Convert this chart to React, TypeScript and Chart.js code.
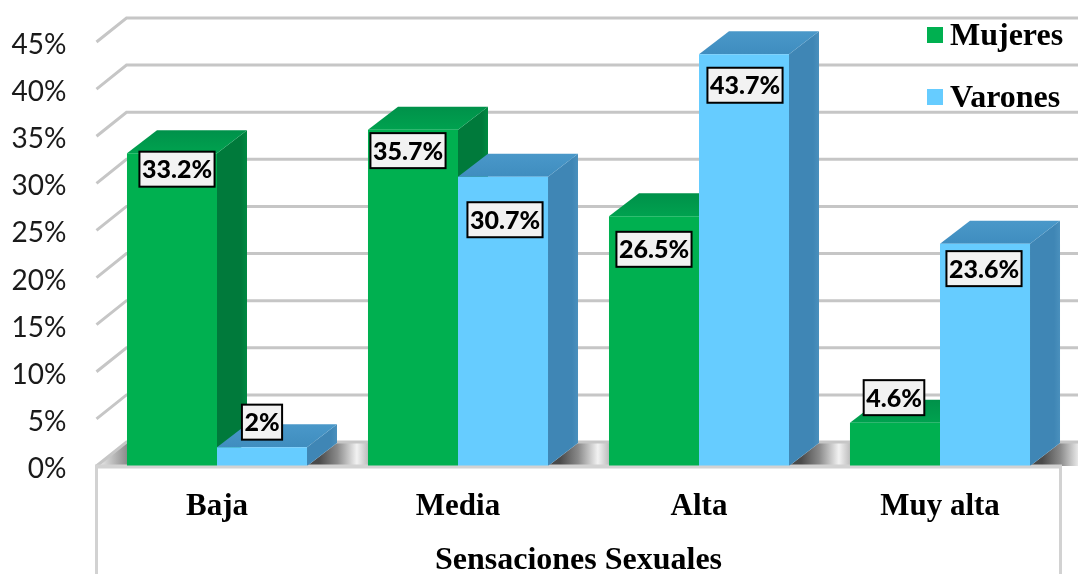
import React, { useEffect, useRef } from "react";
import { Chart, registerables } from "chart.js";

Chart.register(...registerables);

const categories = ["Baja", "Media", "Alta", "Muy alta"];
const mujeres = [33.2, 35.7, 26.5, 4.6];
const varones = [2, 30.7, 43.7, 23.6];
const mujeresLabels = ["33.2%", "35.7%", "26.5%", "4.6%"];
const varonesLabels = ["2%", "30.7%", "43.7%", "23.6%"];
const axisTitle = "Sensaciones Sexuales";

// label box centre, relative to top centre of each bar
const mujeresLabelShift = [[5, 16], [-5, 21], [0, 33], [-1, -25]];
const varonesLabelShift = [[0, -25], [2, 43], [1, 31], [-1, 25]];

const DEPTH_X = 30;
const GRID_DY = 24;
const BAR_DY = 23;
const SERIF = "'Liberation Serif', serif";
const SANS = "Lato, 'Open Sans', sans-serif";

const faceColors = [
  { top: "#00914a", topEdge: "#00a24f", side: "#007a3b", sideEdge: "#008a42" },
  { top: "#4a98c9", topEdge: "#3f8dbf", side: "#3f86b5", sideEdge: "#4a90bd" },
];

const scene = {
  id: "scene",
  beforeDraw(chart: any) {
    // the value labels sit a little below their grid line ends
    chart.scales.y.getLabelItems().forEach((item: any) => {
      item.textOffset = 3;
    });
  },
  beforeDatasetsDraw(chart: any) {
    const { ctx, chartArea, scales } = chart;
    const { left, right, bottom } = chartArea;
    const y = scales.y;
    const bars = [chart.getDatasetMeta(0).data, chart.getDatasetMeta(1).data];
    ctx.save();

    // floor shading between bars
    const floorTop = bottom - GRID_DY + 1;
    const floorPoly = (x0: number, x1: number, fill: any) => {
      ctx.beginPath();
      ctx.moveTo(x0, bottom);
      ctx.lineTo(x0 + DEPTH_X, floorTop);
      ctx.lineTo(x1 + DEPTH_X, floorTop);
      ctx.lineTo(x1, bottom);
      ctx.closePath();
      ctx.fillStyle = fill;
      ctx.fill();
    };
    const firstLeft = bars[0][0].x - bars[0][0].width / 2;
    const leftGrad = ctx.createLinearGradient(left, 0, firstLeft, 0);
    leftGrad.addColorStop(0, "#f4f4f4");
    leftGrad.addColorStop(1, "#8c8c8c");
    floorPoly(left, firstLeft, leftGrad);
    categories.forEach((_, i) => {
      const a = bars[1][i].x + bars[1][i].width / 2;
      const b = i < categories.length - 1 ? bars[0][i + 1].x - bars[0][i + 1].width / 2 : a + 61;
      const g = ctx.createLinearGradient(a + 12, 0, a + 73, 0);
      g.addColorStop(0, "#4a4a4a");
      g.addColorStop(0.3, "#8a8a8a");
      g.addColorStop(0.62, "#f2f2f2");
      g.addColorStop(0.85, "#b0b0b0");
      g.addColorStop(1, "#777777");
      floorPoly(a, b, g);
    });

    // grid on the side wall and the back wall
    ctx.lineWidth = 3;
    y.ticks.forEach((t: any) => {
      const py = y.getPixelForValue(t.value);
      ctx.strokeStyle = "#c6c6c6";
      ctx.beginPath();
      ctx.moveTo(left, py);
      ctx.lineTo(left + DEPTH_X, py - GRID_DY);
      ctx.lineTo(chart.width + 2, py - GRID_DY);
      ctx.stroke();
    });

    // base frame under the floor
    ctx.strokeStyle = "#d2d2d2";
    ctx.lineWidth = 3;
    ctx.beginPath();
    ctx.moveTo(left, chart.height);
    ctx.lineTo(left, bottom);
    ctx.lineTo(right, bottom);
    ctx.lineTo(right, chart.height);
    ctx.stroke();

    // depth faces: first series first, so the second one's faces cover it
    [0, 1].forEach((d) => {
      const c = faceColors[d];
      bars[d].forEach((bar: any) => {
        const x0 = bar.x - bar.width / 2;
        const x1 = bar.x + bar.width / 2;
        const top = bar.y;
        const base = bar.base;
        const sg = ctx.createLinearGradient(x1, 0, x1 + DEPTH_X, 0);
        sg.addColorStop(0, c.side);
        sg.addColorStop(0.8, c.side);
        sg.addColorStop(1, c.sideEdge);
        ctx.fillStyle = sg;
        ctx.beginPath();
        ctx.moveTo(x1, top);
        ctx.lineTo(x1 + DEPTH_X, top - BAR_DY);
        ctx.lineTo(x1 + DEPTH_X, base - BAR_DY);
        ctx.lineTo(x1, base);
        ctx.closePath();
        ctx.fill();
        const tg = ctx.createLinearGradient(0, top - BAR_DY, 0, top);
        tg.addColorStop(0, c.top);
        tg.addColorStop(1, c.topEdge);
        ctx.fillStyle = tg;
        ctx.beginPath();
        ctx.moveTo(x0, top);
        ctx.lineTo(x0 + DEPTH_X, top - BAR_DY);
        ctx.lineTo(x1 + DEPTH_X, top - BAR_DY);
        ctx.lineTo(x1, top);
        ctx.closePath();
        ctx.fill();
      });
    });
    ctx.restore();
  },
  afterDatasetsDraw(chart: any) {
    const { ctx, chartArea } = chart;
    ctx.save();
    ctx.strokeStyle = "#d2d2d2";
    ctx.lineWidth = 3;
    ctx.beginPath();
    ctx.moveTo(chartArea.left, chartArea.bottom + 1);
    ctx.lineTo(chartArea.right, chartArea.bottom + 1);
    ctx.stroke();

    // data labels
    const texts = [mujeresLabels, varonesLabels];
    const shifts = [mujeresLabelShift, varonesLabelShift];
    ctx.font = `900 25px ${SANS}`;
    ctx.textAlign = "center";
    ctx.textBaseline = "middle";
    [0, 1].forEach((d) => {
      chart.getDatasetMeta(d).data.forEach((bar: any, i: number) => {
        const cx = bar.x + shifts[d][i][0];
        const cy = bar.y + shifts[d][i][1];
        const w = ctx.measureText(texts[d][i]).width + 5;
        const h = 35;
        ctx.fillStyle = "#f2f2f2";
        ctx.fillRect(cx - w / 2, cy - h / 2, w, h);
        ctx.strokeStyle = "#000000";
        ctx.lineWidth = 2;
        ctx.strokeRect(cx - w / 2, cy - h / 2, w, h);
        ctx.fillStyle = "#000000";
        ctx.fillText(texts[d][i], cx, cy + 1);
      });
    });

    // legend
    ctx.font = `bold 32px ${SERIF}`;
    ctx.textAlign = "left";
    chart.data.datasets.forEach((ds: any, i: number) => {
      const ly = 35 + i * 62;
      ctx.fillStyle = ds.backgroundColor;
      ctx.fillRect(927, ly - 8, 16, 16);
      ctx.fillStyle = "#000000";
      ctx.fillText(ds.label, 950, ly + 2);
    });
    ctx.restore();
  },
};

export default function App() {
  const ref = useRef<HTMLCanvasElement>(null);
  useEffect(() => {
    const chart = new Chart(ref.current as HTMLCanvasElement, {
      type: "bar",
      data: {
        labels: categories,
        datasets: [
          { label: "Mujeres", data: mujeres, backgroundColor: "#00B050", categoryPercentage: 0.747, barPercentage: 1 },
          { label: "Varones", data: varones, backgroundColor: "#66CCFF", categoryPercentage: 0.747, barPercentage: 1 },
        ],
      },
      options: {
        responsive: false,
        animation: false,
        layout: { padding: { top: 42, right: 17.5, bottom: 0, left: 0 } },
        plugins: { legend: { display: false }, tooltip: { enabled: false }, title: { display: false } },
        scales: {
          x: {
            type: "category",
            offset: true,
            grid: { display: false, drawTicks: false },
            border: { display: false },
            ticks: { color: "#000", font: { family: SERIF, size: 31, weight: "bold" }, padding: 22, maxRotation: 0 },
            title: {
              display: true,
              text: axisTitle,
              color: "#000",
              font: { family: SERIF, size: 32, weight: "bold", lineHeight: 0.8 },
              padding: 0,
            },
            afterFit: (s: any) => { s.height = 108; },
          },
          y: {
            min: 0,
            max: 45,
            grid: { display: false, drawTicks: false },
            border: { display: false },
            ticks: { stepSize: 5, color: "#1a1a1a", font: { family: SANS, size: 28 }, padding: 30, callback: (v: any) => `${v}%` },
            afterFit: (s: any) => { s.width = 96.5; s.paddingTop = 0; s.paddingBottom = 0; },
          },
        },
      },
      plugins: [scene],
    } as any);
    return () => chart.destroy();
  }, []);
  return (
    <div style={{ position: "fixed", left: 0, top: 0, width: 1078, height: 574, overflow: "hidden", background: "#fff" }}>
      <canvas ref={ref} width={1078} height={574} style={{ display: "block" }} />
    </div>
  );
}
